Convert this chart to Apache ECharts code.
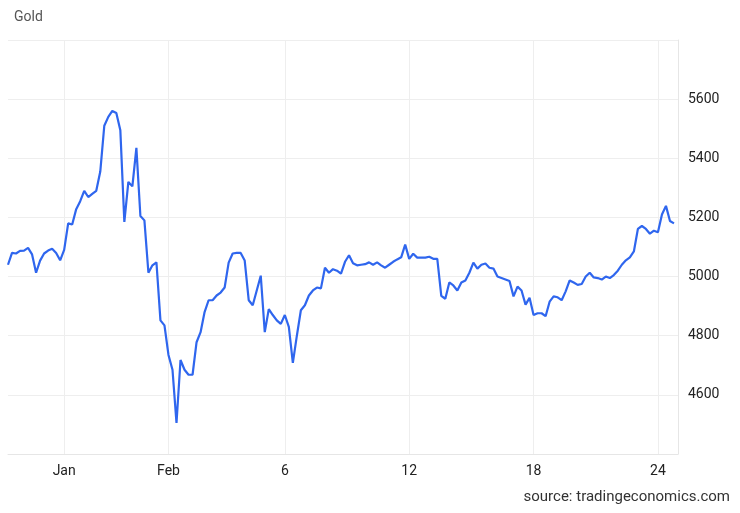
<!DOCTYPE html>
<html><head><meta charset="utf-8">
<script src="https://cdn.jsdelivr.net/npm/echarts@6/dist/echarts.min.js"></script>
<style>html,body{margin:0;padding:0;background:#fff}#c{width:740px;height:513px}</style>
</head><body><div id="c"></div>
<script>
const prices = [5040,5080,5078,5087,5088,5097,5075,5013,5054,5078,5088,5094,5080,5055,5090,5180,5176,5228,5255,5290,5269,5280,5290,5355,5510,5540,5560,5553,5495,5185,5320,5305,5435,5205,5190,5013,5038,5048,4852,4835,4735,4685,4505,4718,4685,4668,4668,4778,4812,4880,4920,4920,4936,4946,4963,5047,5078,5080,5080,5054,4920,4903,4953,5003,4812,4890,4870,4852,4840,4870,4830,4708,4800,4886,4903,4936,4953,4963,4960,5030,5013,5025,5020,5010,5050,5072,5045,5038,5040,5042,5048,5040,5048,5038,5030,5040,5050,5058,5065,5108,5060,5077,5064,5064,5064,5067,5060,5060,4935,4925,4980,4970,4953,4980,4987,5013,5047,5027,5040,5044,5030,5027,5000,4995,4990,4985,4933,4966,4953,4905,4928,4870,4876,4876,4866,4915,4933,4930,4920,4950,4987,4980,4972,4975,5000,5013,4997,4995,4990,5000,4995,5005,5020,5040,5055,5065,5085,5161,5171,5161,5145,5155,5150,5210,5239,5188,5180,null];
const tickLabels = ['Jan','Feb','6','12','18','24'];
const tickIdx = [14,40,69,100,131,162];
const categories = prices.map((_, i) => String(i));
const chart = echarts.init(document.getElementById('c'));
chart.setOption({
  animation:false,
  graphic:[
    {type:'text',left:14,top:10,style:{text:'Gold',fontSize:14,fill:'#555',fontFamily:'Roboto, Arial'}},
    {type:'text',right:10,top:490,style:{text:'source: tradingeconomics.com',fontSize:15,fill:'#333',fontFamily:'Roboto, Arial'}}
  ],
  grid:{left:8,right:62,top:40,bottom:59},
  xAxis:{type:'category',data:categories,boundaryGap:false,
    axisLine:{lineStyle:{color:'#e6e6e6'}},axisTick:{show:false},
    axisLabel:{interval:(i)=>tickIdx.includes(i),formatter:(v,i)=>{const k=tickIdx.indexOf(Number(v));return k>=0?tickLabels[k]:'';},color:'#222',fontSize:14,margin:10,fontFamily:'Roboto, Arial'},
    splitLine:{show:true,interval:(i)=>tickIdx.includes(i),lineStyle:{color:'#eeeeee'}}},
  yAxis:{type:'value',position:'right',min:4400,max:5800,interval:200,
    axisLine:{show:true,lineStyle:{color:'#e6e6e6'}},axisTick:{show:false},
    axisLabel:{color:'#222',fontSize:14,margin:10,fontFamily:'Roboto, Arial',formatter:(v)=>(v===4400||v===5800)?'':String(v)},
    splitLine:{lineStyle:{color:'#eeeeee'}}},
  series:[{type:'line',data:prices,showSymbol:false,lineStyle:{color:'#2f66ee',width:2.2},itemStyle:{color:'#2f66ee'}}]
});
</script></body></html>
